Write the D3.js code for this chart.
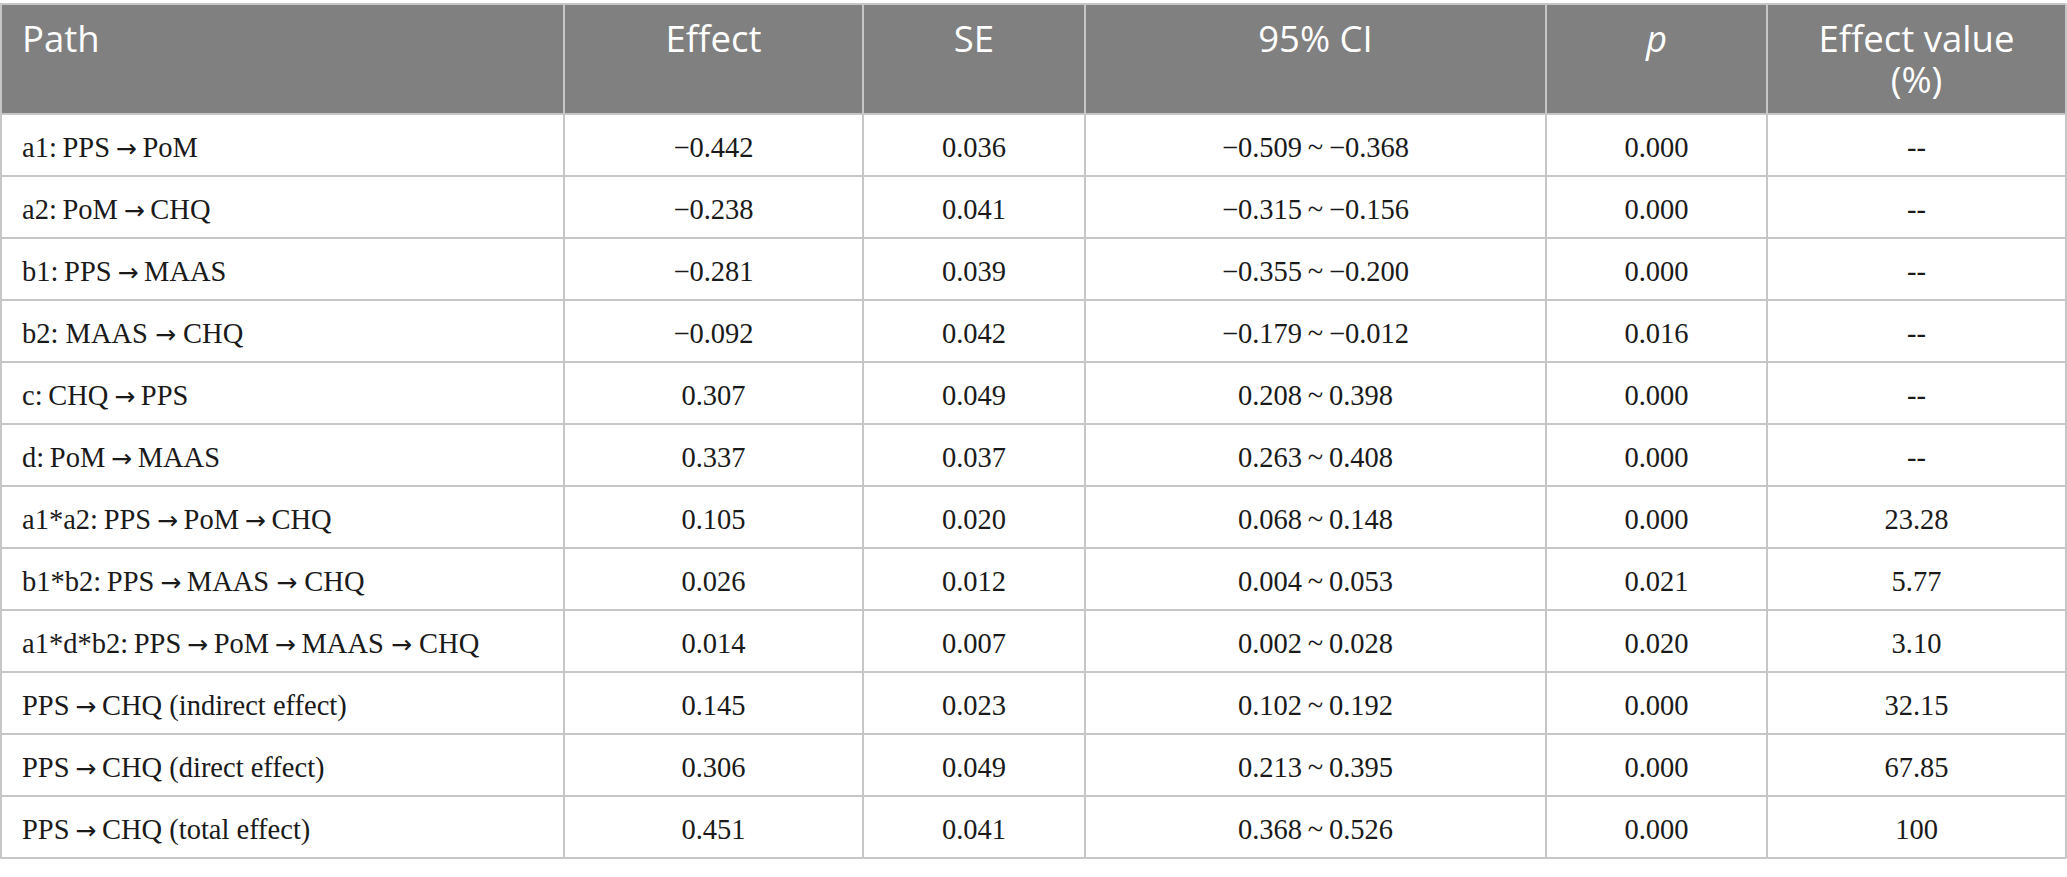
<!DOCTYPE html>
<html>
<head>
<meta charset="utf-8">
<script src="https://cdn.jsdelivr.net/npm/d3@7"></script>
<style>
  body { margin: 0; background: #fff; }
  svg { display: block; }
</style>
</head>
<body>
<svg id="tbl" width="2067" height="877"></svg>
<script>
const T = "\u2009";
const paths = [
  "a1:" + T + "PPS" + T + "\u2192" + T + "PoM",
  "a2:" + T + "PoM" + T + "\u2192" + T + "CHQ",
  "b1:" + T + "PPS" + T + "\u2192" + T + "MAAS",
  "b2: MAAS \u2192 CHQ",
  "c:" + T + "CHQ" + T + "\u2192" + T + "PPS",
  "d:" + T + "PoM" + T + "\u2192" + T + "MAAS",
  "a1*a2:" + T + "PPS" + T + "\u2192" + T + "PoM" + T + "\u2192" + T + "CHQ",
  "b1*b2:" + T + "PPS" + T + "\u2192" + T + "MAAS \u2192 CHQ",
  "a1*d*b2:" + T + "PPS" + T + "\u2192" + T + "PoM" + T + "\u2192" + T + "MAAS \u2192 CHQ",
  "PPS" + T + "\u2192" + T + "CHQ (indirect effect)",
  "PPS" + T + "\u2192" + T + "CHQ (direct effect)",
  "PPS" + T + "\u2192" + T + "CHQ (total effect)"
];
const effects = ["\u22120.442", "\u22120.238", "\u22120.281", "\u22120.092", "0.307", "0.337",
  "0.105", "0.026", "0.014", "0.145", "0.306", "0.451"];
const ses = ["0.036", "0.041", "0.039", "0.042", "0.049", "0.037",
  "0.020", "0.012", "0.007", "0.023", "0.049", "0.041"];
const ciLow = ["\u22120.509", "\u22120.315", "\u22120.355", "\u22120.179", "0.208", "0.263",
  "0.068", "0.004", "0.002", "0.102", "0.213", "0.368"];
const ciHigh = ["\u22120.368", "\u22120.156", "\u22120.200", "\u22120.012", "0.398", "0.408",
  "0.148", "0.053", "0.028", "0.192", "0.395", "0.526"];
const pvals = ["0.000", "0.000", "0.000", "0.016", "0.000", "0.000",
  "0.000", "0.021", "0.020", "0.000", "0.000", "0.000"];
const effectPct = ["--", "--", "--", "--", "--", "--",
  "23.28", "5.77", "3.10", "32.15", "67.85", "100"];
const headers = [["Path"], ["Effect"], ["SE"], ["95% CI"], ["p"], ["Effect value", "(%)"]];

// column layout
const colEdges = [0, 564, 863, 1085, 1546, 1767, 2066];
const tableTop = 4, headH = 110, rowH = 62;

const svg = d3.select("#tbl");

let columns = headers.map((h, i) => ({
  key: i, lines: h, x0: colEdges[i], x1: colEdges[i + 1],
  align: i === 0 ? "start" : "middle"
}));

let rows = paths.map((p, i) => [
  p, effects[i], ses[i], ciLow[i] + T + "~" + T + ciHigh[i], pvals[i], effectPct[i]
]);

let y = d3.scaleBand()
  .domain(d3.range(rows.length))
  .range([tableTop + headH, tableTop + headH + rowH * rows.length]);

let tx = function(c) {
  return c.align === "start" ? c.x0 + 22 : (c.x0 + c.x1) / 2;
};

// header
let head = svg.append("g").attr("id", "header");
head.append("rect")
  .attr("x", colEdges[0]).attr("y", tableTop)
  .attr("width", colEdges[colEdges.length - 1] - colEdges[0])
  .attr("height", headH)
  .attr("fill", "#7f807f");

head.selectAll("g.hcell")
  .data(columns)
  .enter().append("g")
  .attr("class", "hcell")
  .each(function(d) {
    let g = d3.select(this);
    d.lines.forEach((l, j) => {
      g.append("text")
        .attr("x", tx(d))
        .attr("y", tableTop + 48 + j * 41)
        .attr("text-anchor", d.align)
        .attr("fill", "#fff")
        .style("font-family", "'Open Sans', 'Noto Sans', sans-serif")
        .style("font-size", "36.5px")
        .style("font-style", l === "p" ? "italic" : "normal")
        .text(l);
    });
  });

// body
let body = svg.append("g").attr("id", "body");
let rowG = body.selectAll("g.row")
  .data(rows)
  .enter().append("g")
  .attr("class", "row")
  .attr("transform", (d, i) => "translate(0," + y(i) + ")");

rowG.selectAll("text")
  .data(d => d.map((v, j) => ({ v: v, c: columns[j] })))
  .enter().append("text")
  .attr("x", d => tx(d.c))
  .attr("y", 43)
  .attr("text-anchor", d => d.c.align)
  .attr("fill", "#1a1a1a")
  .style("font-family", "'Liberation Serif', 'DejaVu Serif', serif")
  .style("font-size", "28.5px")
  .each(function(d) {
    let t = d3.select(this);
    let parts = d.v.split("\u2192");
    parts.forEach((p, k) => {
      if (k > 0) {
        t.append("tspan")
          .style("font-family", "'DejaVu Sans', sans-serif")
          .style("font-size", "25px")
          .text("\u2192");
      }
      t.append("tspan").text(p);
    });
  });

// grid lines
let grid = svg.append("g").attr("id", "grid");
let bottom = y.range()[1];

grid.selectAll("line.h")
  .data(d3.range(rows.length + 1))
  .enter().append("line")
  .attr("class", "h")
  .attr("x1", colEdges[0]).attr("x2", colEdges[colEdges.length - 1])
  .attr("y1", d => d === rows.length ? bottom : y(d))
  .attr("y2", d => d === rows.length ? bottom : y(d))
  .attr("stroke", "#c6c6c6").attr("stroke-width", 2);

grid.selectAll("line.v")
  .data(colEdges)
  .enter().append("line")
  .attr("class", "v")
  .attr("x1", d => d === 0 ? 1 : d).attr("x2", d => d === 0 ? 1 : d)
  .attr("y1", tableTop).attr("y2", bottom)
  .attr("stroke", "#c6c6c6").attr("stroke-width", 2);

grid.append("line")
  .attr("x1", colEdges[0]).attr("x2", colEdges[colEdges.length - 1])
  .attr("y1", tableTop).attr("y2", tableTop)
  .attr("stroke", "#c6c6c6").attr("stroke-width", 2);
</script>
</body>
</html>
